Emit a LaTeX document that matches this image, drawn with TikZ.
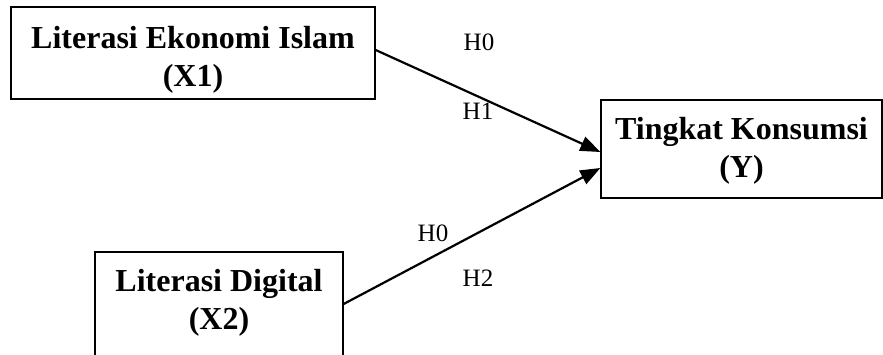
\documentclass[tikz,border=0pt]{standalone}
\usepackage{fontspec}
\setmainfont{Liberation Serif}
\usetikzlibrary{arrows.meta}
\begin{document}
\begin{tikzpicture}[x=1pt,y=-1pt,
  box/.style={draw, line width=1.3pt, inner sep=0pt},
  btext/.style={inner sep=0pt, align=center,
    font=\fontsize{32}{38}\selectfont\bfseries},
  lbl/.style={inner sep=0pt, font=\fontsize{25}{29}\selectfont},
  arr/.style={line width=2.2pt, -{Triangle[length=20pt,width=15pt]}}]
\useasboundingbox (0,0) rectangle (883,355);
\clip (0,0) rectangle (883,355);
\node[box, minimum width=364pt, minimum height=92pt] (b1) at (193,53) {};
\node[box, minimum width=281pt, minimum height=98pt] (y) at (741.5,149) {};
\node[box, minimum width=248pt, minimum height=118pt] (x2) at (219,311) {};
\node[btext] (b1t) at (193,60) {Literasi Ekonomi Islam\\(X1)};
\node[btext] (yt) at (741.5,151) {Tingkat Konsumsi\\(Y)};
\node[btext] (x2t) at (219,303) {Literasi Digital\\(X2)};
\draw[arr] ([yshift=3pt]b1.east) -- ([yshift=-3pt]y.west);
\draw[arr] ([yshift=7pt]x2.east) -- ([yshift=-19pt]y.west);
\node[lbl] (h0a) at (479,42) {H0};
\node[lbl] (h1) at (478,111) {H1};
\node[lbl] (h0b) at (433,233) {H0};
\node[lbl] (h2) at (478,278) {H2};
\end{tikzpicture}
\end{document}
